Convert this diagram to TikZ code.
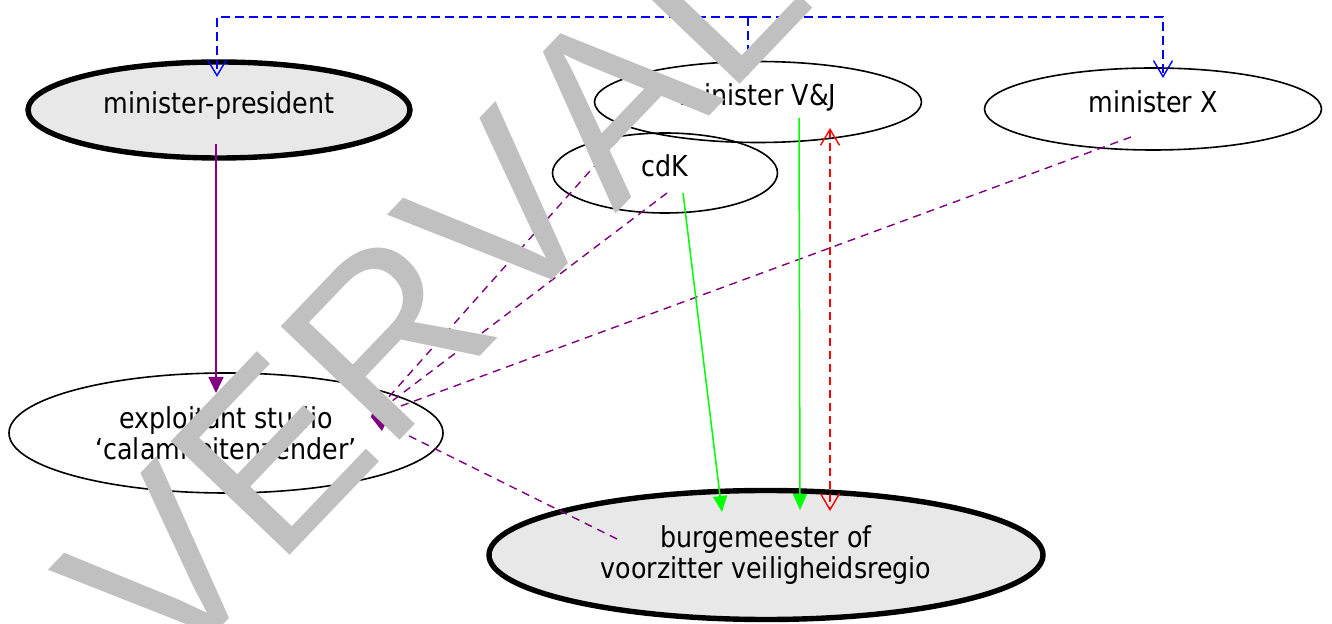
\documentclass[tikz,border=0pt]{standalone}
\usepackage{fontspec}
\setmainfont{DejaVu Sans}[FakeStretch=0.88]
\newfontfamily\wmfont{Liberation Sans}[Kerning=Off]
\usetikzlibrary{calc,shapes.geometric,arrows.meta}
\definecolor{lila}{RGB}{128,0,128}
\definecolor{groen}{RGB}{0,255,0}
\definecolor{lichtgrijs}{RGB}{232,232,232}
\definecolor{wmgrijs}{RGB}{192,192,192}

\begin{document}
\begin{tikzpicture}[x=0.5pt, y=-0.5pt,
	every node/.style={font=\fontsize{14.4}{15.3}\selectfont, align=center},
	rol/.style={ellipse, draw, line width=0.8pt, inner sep=0pt},
	hoofdrol/.style={rol, line width=2.7pt, fill=lichtgrijs},
	enkel/.style={text height=9pt, text depth=5pt},
	lijn/.style={lila, line width=0.7pt, -{Triangle[length=8pt, width=7.5pt]}},
	stippellila/.style={lijn, dash pattern=on 4pt off 3pt},
	groenlijn/.style={groen, line width=0.75pt, -{Triangle[length=8pt, width=7pt]}},
	stippelrood/.style={red, line width=0.7pt, dash pattern=on 4pt off 2.5pt,
		{Straight Barb[length=8pt, width=9.5pt]}-{Straight Barb[length=8pt, width=9.5pt]}},
	stippelblauw/.style={blue, line width=0.7pt, dash pattern=on 4.5pt off 2.5pt,
		-{Straight Barb[length=8pt, width=9.5pt]}},
	wm/.style={font=\wmfont\fontsize{119.5}{120}\selectfont, text=wmgrijs, inner sep=0pt}]
	\useasboundingbox (0,0) rectangle (1332,624);

	% rollen
	\node[hoofdrol, enkel, minimum width=191pt, minimum height=48pt] (mp) at (219,110) {minister-president};
	\node[rol, enkel, minimum width=163.5pt, minimum height=40.5pt] (vj) at (758,102) {minister V\&J};
	\node[rol, enkel, minimum width=168.5pt, minimum height=41pt] (mx) at (1153,109) {minister X};
	\node[rol, enkel, minimum width=112.5pt, minimum height=40pt] (cdk) at (665,173) {cdK};
	\node[rol, minimum width=217pt, minimum height=60pt] (ex) at (226,433) {exploitant studio\\‘calamiteitenzender’};
	\node[hoofdrol, minimum width=277pt, minimum height=64.5pt] (bg) at (766,555) {burgemeester of\\voorzitter veiligheidsregio};

	% blauwe lijn bovenaan
	\coordinate (bt) at (748,17);
	\draw[stippelblauw] (bt) -| ($(mp)+(-2,-33)$);
	\draw[stippelblauw] (bt) -- ($(vj)+(-10,-27)$);
	\draw[stippelblauw] (bt) -| ($(mx)+(10,-31)$);

	% naar de exploitant
	\draw[lijn] ($(mp)+(-3,34)$) -- ($(ex)+(-10,-40)$);
	\draw[stippellila] ($(vj)+(-103,-4)$) -- ($(ex)+(145,-16)$);
	\draw[stippellila] ($(cdk)+(2,20)$) -- ($(ex)+(145,-16)$);
	\draw[stippellila] ($(mx)+(-22,28)$) -- ($(ex)+(145,-16)$);
	\draw[stippellila] ($(bg)+(-149,-16)$) -- ($(ex)+(145,-16)$);

	% naar de burgemeester
	\draw[groenlijn] ($(cdk)+(18,20)$) -- ($(bg)+(-44,-43)$);
	\draw[groenlijn] ($(vj)+(41,16)$) -- ($(bg)+(34,-45)$);
	\draw[stippelrood] ($(vj)+(72,26)$) -- ($(bg)+(64,-44)$);

	% watermerk
	\begin{scope}
		\clip (0,0) rectangle (1332,624);
		\node[wm, anchor=base west, rotate=46.3] (wmk) at (166,685) {VERVALLEN};
	\end{scope}
\end{tikzpicture}
\end{document}
